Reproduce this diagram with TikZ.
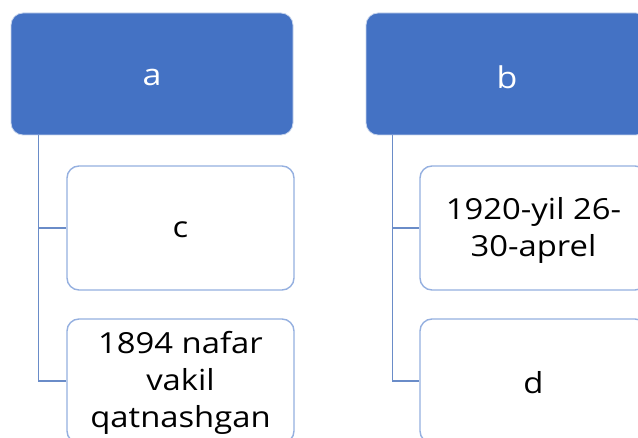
\documentclass[tikz,border=0pt]{standalone}
\usepackage{fontspec}
\setmainfont[FakeStretch=1.13]{Open Sans}
\definecolor{topblue}{HTML}{4472C4}
\definecolor{edgeblue}{HTML}{95B0E0}
\definecolor{lineblue}{HTML}{6A8CC8}
\begin{document}
\begin{tikzpicture}[x=1pt,y=-1pt,
  topbox/.style={draw=white!70!topblue,line width=0.8pt,fill=topblue,rounded corners=12pt,
    minimum width=282pt,minimum height=122pt,inner sep=0pt},
  toptext/.style={text=white,font=\fontsize{30}{37}\selectfont,yshift=-3pt},
  childbox/.style={draw=edgeblue,line width=1.4pt,fill=white,rounded corners=12pt,
    minimum width=227pt,minimum height=124pt,inner sep=0pt},
  childtext/.style={align=center,font=\fontsize{29}{37}\selectfont,yshift=-2pt},
  link/.style={draw=lineblue,line width=1.3pt}]
\clip (0,0) rectangle (638,438);
\fill[white] (0,0) rectangle (638,438);
\node[topbox,label={[toptext]center:a}] (a) at (152,74) {};
\node[topbox,label={[toptext]center:b}] (b) at (507,74) {};
\node[childbox,label={[childtext]center:c}] (c) at (180.5,228) {};
\node[childbox,label={[childtext]center:1894 nafar\\vakil\\qatnashgan}] (a2) at (180.5,381) {};
\node[childbox,label={[childtext]center:1920-yil 26-\\30-aprel}] (b1) at (533.5,228) {};
\node[childbox,label={[childtext]center:d}] (d) at (533.5,381) {};
\coordinate (ra) at ([xshift=28pt]a.south west);
\coordinate (rb) at ([xshift=27pt]b.south west);
\draw[link] (ra) |- (c.west);
\draw[link] (ra) |- (a2.west);
\draw[link] (rb) |- (b1.west);
\draw[link] (rb) |- (d.west);
\end{tikzpicture}
\end{document}
